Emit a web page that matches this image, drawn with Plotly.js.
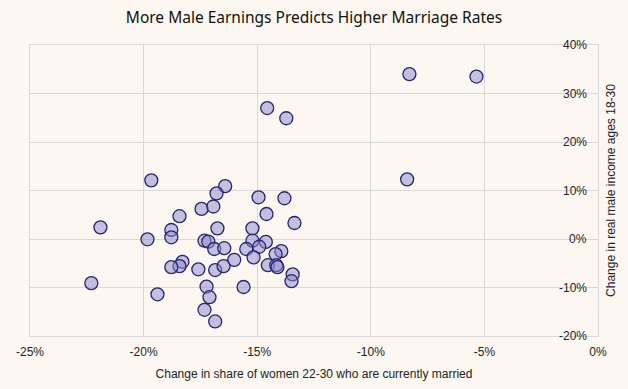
<!DOCTYPE html>
<html>
<head>
<meta charset="utf-8">
<script src="https://cdn.plot.ly/plotly-3.0.1.min.js"></script>
<style>html,body{margin:0;padding:0;background:#fdf7f2;}#chart{width:628px;height:389px;}</style>
</head>
<body>
<div id="chart"></div>
<script>
// Change in share of women 22-30 currently married (%)
var marriageChange = [
  -8.3, -5.35, -8.4, -14.56, -13.72,
  -19.66, -16.41, -16.79, -14.94, -13.8, -17.45, -16.93, -18.42, -14.59, -13.36,
  -21.9, -18.78, -16.75, -15.21, -19.83, -18.78, -17.32, -17.15, -15.21, -14.62,
  -14.91, -16.89, -16.45, -15.48, -13.94, -14.19, -15.16, -16.01, -18.29, -18.42,
  -18.78, -17.59, -16.85, -16.48, -14.53, -14.16, -14.11, -13.44, -13.49, -22.3,
  -17.23, -15.6, -19.39, -17.1, -17.32, -16.85
];
// Change in real male income ages 18-30 (%)
var incomeChange = [
  34.0, 33.5, 12.3, 27.0, 24.9,
  12.1, 10.9, 9.4, 8.6, 8.4, 6.2, 6.7, 4.7, 5.15, 3.3,
  2.4, 1.86, 2.2, 2.2, -0.06, 0.35, -0.35, -0.55, -0.35, -0.6,
  -1.6, -2.06, -1.9, -2.06, -2.5, -3.1, -3.8, -4.3, -4.7, -5.6,
  -5.8, -6.25, -6.4, -5.6, -5.4, -5.4, -5.8, -7.3, -8.7, -9.1,
  -9.8, -9.9, -11.4, -12.0, -14.6, -17.0
];
var xTicks = [-25, -20, -15, -10, -5, 0];
var yTicks = [-20, -10, 0, 10, 20, 30, 40];

var bg = '#fdf7f2';
var grid = '#d9d9d9';
var trace = {
  x: marriageChange,
  y: incomeChange,
  type: 'scatter',
  mode: 'markers',
  marker: {
    size: 13,
    color: 'rgba(140,138,195,0.5)',
    line: {color: '#24247a', width: 1.3}
  },
  hoverinfo: 'x+y'
};
var yLabels = yTicks.map(function(v){
  return {x: 1, xref: 'paper', xanchor: 'right', xshift: -9,
          y: v, yref: 'y', yanchor: 'middle',
          text: v + '%', showarrow: false,
          font: {size: 12, color: '#222'}};
});
var layout = {
  width: 628, height: 389,
  paper_bgcolor: bg, plot_bgcolor: bg,
  margin: {l: 30, r: 30, t: 45, b: 53},
  font: {family: 'Liberation Sans, Arial, sans-serif', size: 12, color: '#222'},
  title: {text: 'More Male Earnings Predicts Higher Marriage Rates',
          font: {family: 'Noto Sans, sans-serif', size: 15.5, color: '#111'},
          x: 0.5, xanchor: 'center', y: 0.955, yanchor: 'middle'},
  showlegend: false,
  annotations: yLabels,
  xaxis: {
    range: [-25, 0], tickvals: xTicks,
    ticktext: xTicks.map(function(v){return v + '%';}),
    showgrid: true, gridcolor: grid, gridwidth: 1,
    zeroline: false, showline: true, linecolor: grid, linewidth: 1, mirror: true,
    ticks: '', tickfont: {size: 12, color: '#222'}, ticklabelstandoff: 5,
    title: {text: 'Change in share of women 22-30 who are currently married', font: {size: 12, color: '#222'}, standoff: 11}
  },
  yaxis: {
    range: [-20, 40], tickvals: yTicks,
    side: 'right', showticklabels: false,
    showgrid: true, gridcolor: grid, gridwidth: 1,
    zeroline: false, showline: true, linecolor: grid, linewidth: 1, mirror: true,
    ticks: '',
    title: {text: 'Change in real male income ages 18-30', font: {size: 12, color: '#222'}, standoff: 8}
  }
};
Plotly.newPlot('chart', [trace], layout, {displayModeBar: false, staticPlot: true});
</script>
</body>
</html>
